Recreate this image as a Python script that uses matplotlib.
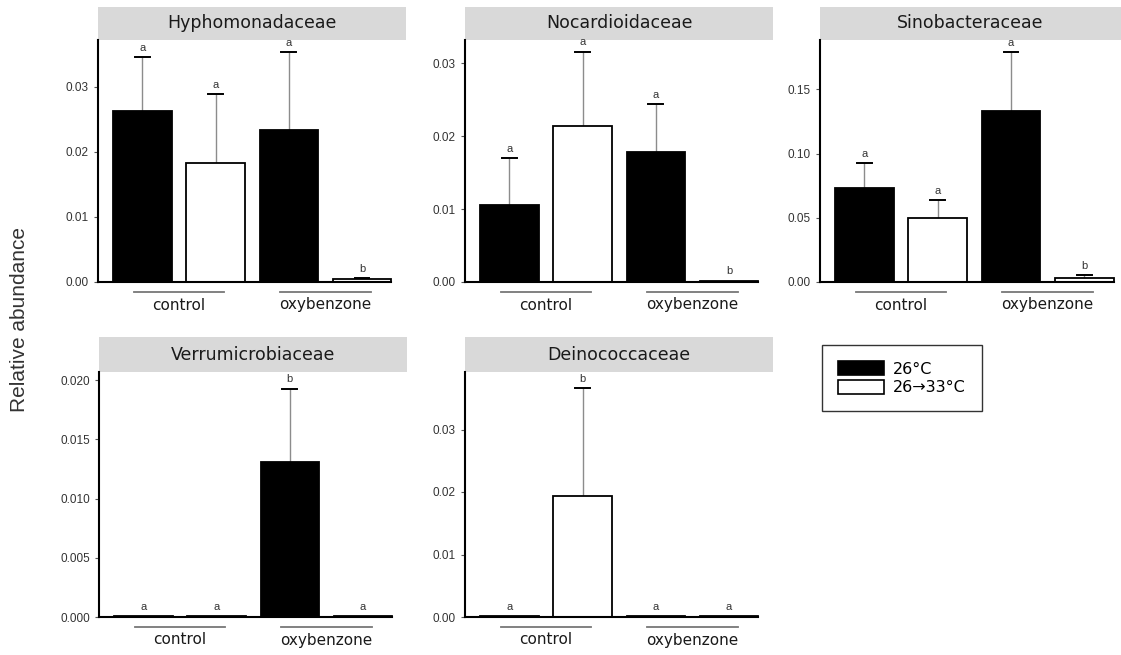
import matplotlib.pyplot as plt
import matplotlib.transforms as mtransforms
from matplotlib.patches import Rectangle, Patch
import numpy as np

# data: bar order = control 26, control 26->33, oxy 26, oxy 26->33
families = ['Hyphomonadaceae', 'Nocardioidaceae', 'Sinobacteraceae',
            'Verrumicrobiaceae', 'Deinococcaceae']
means = [
    [0.0263, 0.0183, 0.0233, 0.0004],
    [0.0105, 0.0214, 0.0178, 0.0002],
    [0.0733, 0.0497, 0.1332, 0.0034],
    [0.0001, 0.0001, 0.0131, 0.0001],
    [0.0002, 0.0194, 0.0001, 0.0002],
]
err_tops = [
    [0.0346, 0.0289, 0.0354, 0.0006],
    [0.0170, 0.0316, 0.0244, 0.0002],
    [0.0928, 0.0637, 0.1794, 0.0052],
    [0.0001, 0.0001, 0.0193, 0.0001],
    [0.0002, 0.0366, 0.0001, 0.0002],
]
letters = [
    ['a', 'a', 'a', 'b'],
    ['a', 'a', 'a', 'b'],
    ['a', 'a', 'a', 'b'],
    ['a', 'a', 'b', 'a'],
    ['a', 'b', 'a', 'a'],
]
yticks = [
    [0.00, 0.01, 0.02, 0.03],
    [0.00, 0.01, 0.02, 0.03],
    [0.00, 0.05, 0.10, 0.15],
    [0.000, 0.005, 0.010, 0.015, 0.020],
    [0.00, 0.01, 0.02, 0.03],
]
ytop = [0.0372, 0.0332, 0.1885, 0.0207, 0.0392]
groups = ['control', 'oxybenzone']
temps = ['26°C', '26→33°C']

W, H = 1121, 655
# panel boxes in pixels: left, right, top, bottom
boxes = [
    (98, 406, 40, 282),
    (465, 773, 40, 282),
    (820, 1121, 40, 282),
    (99, 407, 372, 617),
    (465, 773, 372, 617),
]
strip_h = [33, 33, 33, 35, 35]

fig = plt.figure(figsize=(W / 100, H / 100), dpi=100)
x = np.array([1, 2, 3, 4])
fills = ['black', 'white', 'black', 'white']
arial = ['Liberation Sans', 'DejaVu Sans']

for i, fam in enumerate(families):
    l, r, t, b = boxes[i]
    ax = fig.add_axes([l / W, (H - b) / H, (r - l) / W, (b - t) / H])
    ph = b - t
    ax.bar(x, means[i], width=0.8, color=fills, edgecolor='black', linewidth=1.3, zorder=2)
    for j in range(4):
        if err_tops[i][j] > means[i][j]:
            ax.plot([x[j], x[j]], [means[i][j], err_tops[i][j]], color='#8c8c8c', lw=1, zorder=1)
            ax.plot([x[j] - 0.1, x[j] + 0.1], [err_tops[i][j]] * 2, color='black', lw=1.4, zorder=3)
        ax.annotate(letters[i][j], (x[j], err_tops[i][j]), xytext=(0, 3),
                    textcoords='offset points', ha='center', va='bottom',
                    fontsize=8, color='#333333', family=arial)
    ax.set_xlim(0.395, 4.6 if i != 2 else 4.5)
    ax.set_ylim(0, ytop[i])
    ax.set_yticks(yticks[i])
    fmt = '{:.3f}' if i == 3 else '{:.2f}'
    ax.set_yticklabels([fmt.format(v) for v in yticks[i]], family=arial)
    ax.set_xticks([])
    ax.tick_params(axis='y', labelsize=8.5, length=3, color='#555555', labelcolor='#333333')
    for s in ['top', 'right']:
        ax.spines[s].set_visible(False)
    ax.spines['left'].set_linewidth(1.5)
    ax.spines['bottom'].set_linewidth(1.5)
    ax.spines['bottom'].set_bounds(0.395, 4.4)
    ax.patch.set_alpha(0)

    # strip on top
    sh = strip_h[i] / ph
    ax.add_patch(Rectangle((0, 1), 1, sh, transform=ax.transAxes, facecolor='#d9d9d9',
                           edgecolor='none', clip_on=False))
    ax.text(0.5, 1 + sh / 2, fam, transform=ax.transAxes, ha='center', va='center',
            fontsize=12.5, color='#1a1a1a')

    # group labels below axis
    trans = mtransforms.blended_transform_factory(ax.transData, ax.transAxes)
    for g, c in zip(groups, [1.5, 3.5]):
        ax.plot([c - 0.62, c + 0.62], [-10 / ph] * 2, color='#777777', lw=1.3,
                transform=trans, clip_on=False)
        ax.text(c, -23 / ph, g, transform=trans, ha='center', va='center',
                fontsize=11, color='#1a1a1a')

fig.text(20 / W, 1 - 320 / H, 'Relative abundance', rotation=90, ha='center', va='center',
         fontsize=15, color='#333333', family=arial)

handles = [Patch(facecolor=f, edgecolor='black', linewidth=1.2) for f in ['black', 'white']]
fig.legend(handles, temps, loc='upper left', bbox_to_anchor=(822 / W, 1 - 345 / H),
           prop={'family': 'DejaVu Sans', 'size': 11.5}, frameon=True, fancybox=False,
           edgecolor='black', handlelength=2.9, handleheight=1.0, handletextpad=0.55,
           labelspacing=0.2, borderpad=1.0, borderaxespad=0)

fig.savefig('out.png', dpi=100)
